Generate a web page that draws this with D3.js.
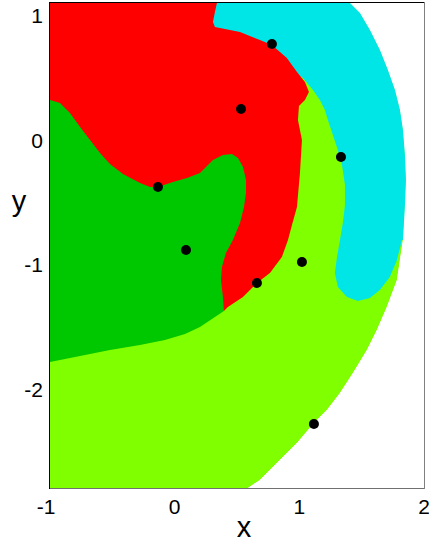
<!DOCTYPE html>
<html><head><meta charset="utf-8">
<script src="https://cdn.jsdelivr.net/npm/d3@7"></script>
<style>body{margin:0;background:#fff;} svg{display:block;}</style>
</head><body>
<svg id="c" width="429" height="543"></svg>
<script>
// ---- data ----
const pointX = [0.780, 0.532, 1.334, -0.134, 0.091, 1.021, 0.660, 1.117];
const pointY = [0.770, 0.249, -0.136, -0.377, -0.882, -0.978, -1.147, -2.277];

const xTicks = [-1, 0, 1, 2];
const yTicks = [-2, -1, 0, 1];

// outer edge of the classified domain (white outside)
const domainEdge = [
  [1.326,1.179],[1.406,1.099],[1.486,1.018],[1.566,0.882],[1.646,0.722],[1.710,0.561],
  [1.767,0.401],[1.807,0.241],[1.831,0.080],[1.847,-0.120],[1.855,-0.321],[1.847,-0.521],
  [1.831,-0.802],[1.783,-1.123],[1.702,-1.339],[1.622,-1.524],[1.542,-1.684],[1.430,-1.868],
  [1.326,-2.029],[1.221,-2.165],[1.117,-2.269],[0.981,-2.430],[0.820,-2.590],[0.684,-2.726],
  [0.588,-2.791],[0.467,-2.871],[-1.3,-2.871],[-1.3,1.179]
];

const redRegion = [
  [-1.080,1.203],[0.339,1.203],[0.339,1.099],[0.323,1.026],[0.307,0.946],[0.323,0.906],
  [0.403,0.890],[0.524,0.866],[0.684,0.802],[0.780,0.762],[0.900,0.658],[0.981,0.545],
  [1.045,0.465],[1.077,0.385],[1.045,0.321],[0.997,0.273],[0.989,0.160],[1.021,0.000],
  [1.005,-0.265],[0.981,-0.537],[0.941,-0.682],[0.909,-0.802],[0.860,-0.938],[0.764,-1.067],
  [0.660,-1.147],[0.548,-1.259],[0.427,-1.339],[0.395,-1.371],[0.387,-1.259],[0.371,-1.123],
  [0.379,-1.018],[0.411,-0.906],[0.467,-0.802],[0.524,-0.666],[0.556,-0.537],[0.572,-0.425],
  [0.572,-0.321],[0.548,-0.217],[0.508,-0.144],[0.459,-0.112],[0.387,-0.120],[0.307,-0.160],
  [0.203,-0.265],[0.099,-0.305],[-0.014,-0.337],[-0.134,-0.377],[-0.198,-0.377],[-0.278,-0.345],
  [-0.415,-0.273],[-0.519,-0.192],[-0.599,-0.104],[-0.679,0.000],[-0.759,0.104],[-0.840,0.217],
  [-0.920,0.297],[-1.000,0.321],[-1.080,0.337]
];

const darkGreenRegion = [
  [-1.080,0.401],[0.203,-0.080],[0.524,-0.080],[0.644,-0.481],[0.459,-1.203],[0.395,-1.371],
  [0.299,-1.435],[0.203,-1.500],[0.083,-1.556],[-0.078,-1.604],[-0.278,-1.644],[-0.519,-1.684],
  [-0.759,-1.732],[-1.000,-1.780],[-1.080,-1.796]
];

const cyanRegion = [
  [0.283,1.203],[0.283,0.922],[0.604,0.762],[0.925,0.561],[1.029,0.497],[1.109,0.401],
  [1.165,0.321],[1.205,0.241],[1.229,0.160],[1.269,0.040],[1.309,-0.080],[1.342,-0.200],
  [1.366,-0.361],[1.366,-0.521],[1.350,-0.658],[1.326,-0.802],[1.301,-0.946],[1.285,-1.067],
  [1.309,-1.179],[1.382,-1.259],[1.470,-1.291],[1.566,-1.267],[1.646,-1.203],[1.726,-1.099],
  [1.783,-0.962],[1.823,-0.802],[2.127,-0.802],[2.127,1.203]
];

const colors = {lightGreen:"#80ff00", darkGreen:"#00c800", red:"#ff0000", cyan:"#00e6e6"};

// ---- layout ----
const svg = d3.select("#c");
const pL = 50, pR = 424, pT = 2, pB = 488;
const x = d3.scaleLinear().domain([-1, 2]).range([pL, pR]);
const y = d3.scaleLinear().domain([-2.791, 1.107]).range([pB, pT]);
const line = d3.line().x(d => x(d[0])).y(d => y(d[1]));

const defs = svg.append("defs");
defs.append("clipPath").attr("id","plotClip").append("rect")
  .attr("x",pL).attr("y",pT).attr("width",pR-pL).attr("height",pB-pT);
defs.append("clipPath").attr("id","domClip").append("path").attr("d", line(domainEdge)+"Z");

const g = svg.append("g").attr("clip-path","url(#plotClip)");
g.append("rect").attr("x",pL).attr("y",pT).attr("width",pR-pL).attr("height",pB-pT).attr("fill","#fff");
const gr = g.append("g").attr("clip-path","url(#domClip)");
gr.append("path").attr("d", line(domainEdge)+"Z").attr("fill", colors.lightGreen);
gr.append("path").attr("d", line(cyanRegion)+"Z").attr("fill", colors.cyan);
gr.append("path").attr("d", line(darkGreenRegion)+"Z").attr("fill", colors.darkGreen);
gr.append("path").attr("d", line(redRegion)+"Z").attr("fill", colors.red);

g.selectAll("circle.pt").data(pointX.map((v,i)=>[v,pointY[i]])).join("circle")
  .attr("class","pt").attr("cx",d=>x(d[0])).attr("cy",d=>y(d[1])).attr("r",5).attr("fill","#000");

// frame
svg.append("line").attr("x1",pL).attr("x2",pR).attr("y1",pB+0.5).attr("y2",pB+0.5).attr("stroke","#707070");
svg.append("line").attr("x1",pR+0.5).attr("x2",pR+0.5).attr("y1",pT).attr("y2",pB+1).attr("stroke","#808080");
svg.append("line").attr("x1",pL-0.5).attr("x2",pR).attr("y1",pT+0.5).attr("y2",pT+0.5).attr("stroke","#000");
svg.append("line").attr("x1",pL-0.5).attr("x2",pL-0.5).attr("y1",pT).attr("y2",pB+1).attr("stroke","#000");

const font = "'Liberation Sans', Arial, sans-serif";
svg.selectAll("text.xt").data(xTicks).join("text").attr("class","xt")
  .attr("x", d => x(d) - (d < 0 ? 4 : 0)).attr("y", pB + 26)
  .attr("text-anchor","middle").attr("font-family",font).attr("font-size",21).attr("fill","#000")
  .text(d => d < 0 ? "-" + Math.abs(d) : d);
svg.selectAll("text.yt").data(yTicks).join("text").attr("class","yt")
  .attr("x", 43).attr("y", d => y(d) + 7.5)
  .attr("text-anchor","end").attr("font-family",font).attr("font-size",21).attr("fill","#000")
  .text(d => d < 0 ? "-" + Math.abs(d) : d);
svg.append("text").attr("x",244).attr("y",537).attr("text-anchor","middle")
  .attr("font-family",font).attr("font-size",29).attr("fill","#000").text("x");
svg.append("text").attr("x",19).attr("y",211).attr("text-anchor","middle")
  .attr("font-family",font).attr("font-size",29).attr("fill","#000").text("y");
</script>
</body></html>
